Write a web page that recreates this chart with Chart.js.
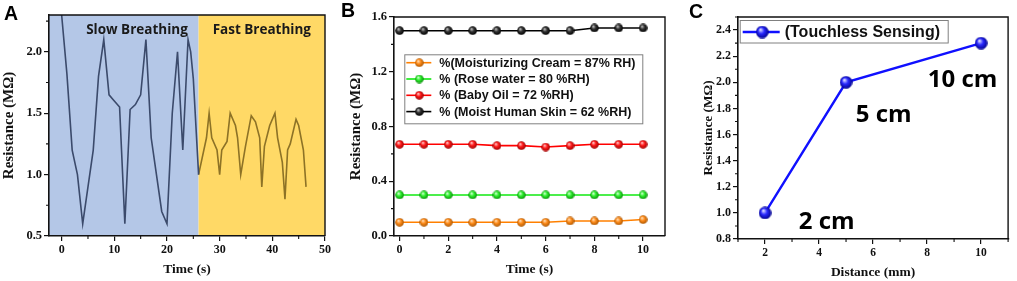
<!DOCTYPE html>
<html>
<head>
<meta charset="utf-8">
<script src="https://cdn.jsdelivr.net/npm/chart.js@4.4.1/dist/chart.umd.min.js"></script>
<style>
  html, body { margin: 0; padding: 0; background: #fff; }
  #wrap { position: relative; width: 1017px; height: 281px; overflow: hidden; }
  .panel { position: absolute; top: 0; height: 281px; }
  .tag { position: absolute; font: bold 19.5px "Liberation Sans", Arial, sans-serif; line-height: 1; color: #000; }
</style>
</head>
<body>
<div id="wrap">
  <div class="panel" style="left:0;width:340px"><canvas id="chartA" width="340" height="281"></canvas></div>
  <div class="panel" style="left:340px;width:340px"><canvas id="chartB" width="340" height="281"></canvas></div>
  <div class="panel" style="left:680px;width:337px"><canvas id="chartC" width="337" height="281"></canvas></div>
  <div class="tag" style="left:4px;top:3.5px">A</div>
  <div class="tag" style="left:341px;top:0.5px">B</div>
  <div class="tag" style="left:689px;top:1.5px">C</div>
</div>
<script>
// ---- Panel A : breathing ----
const slowTime = [0, 1, 2, 3, 4, 5, 6, 7, 8, 9, 10, 11, 12, 13, 14, 15, 16, 17, 18, 19, 20, 21, 22, 23, 24, 24.5, 25, 26];
const slowRes = [2.3, 1.82, 1.2, 1.0, 0.6, 0.9, 1.2, 1.8, 2.1, 1.65, 1.6, 1.55, 0.6, 1.53, 1.57, 1.65, 2.1, 1.3, 1.0, 0.7, 0.6, 1.5, 2.0, 1.2, 2.1, 2.0, 1.78, 1.0];
const fastTime = [26, 27.5, 28, 28.5, 29.5, 30, 30.4, 31.4, 32, 33, 33.4, 34, 34.9, 36, 36.8, 37.6, 38, 38.5, 39.5, 40.5, 41, 41.9, 42.4, 42.9, 43.4, 44.5, 45, 45.9, 46.4];
const fastRes = [1.0, 1.3, 1.5, 1.3, 1.2, 1.0, 1.2, 1.27, 1.5, 1.4, 1.3, 1.0, 1.23, 1.48, 1.43, 1.3, 0.9, 1.23, 1.4, 1.5, 1.3, 1.1, 0.8, 1.2, 1.25, 1.45, 1.4, 1.2, 0.9];
const phaseEnd = [26, 50];
const phaseLabels = ['Slow Breathing', 'Fast Breathing'];
const aTimeTicks = [0, 10, 20, 30, 40, 50];
const aResTicks = [0.5, 1.0, 1.5, 2.0];

// ---- Panel B : skin / liquids ----
const timeB = [0, 1, 2, 3, 4, 5, 6, 7, 8, 9, 10];
const creamRes = [0.1, 0.1, 0.1, 0.1, 0.1, 0.1, 0.1, 0.11, 0.11, 0.11, 0.12];
const roseRes = [0.3, 0.3, 0.3, 0.3, 0.3, 0.3, 0.3, 0.3, 0.3, 0.3, 0.3];
const oilRes = [0.67, 0.67, 0.67, 0.67, 0.66, 0.66, 0.65, 0.66, 0.67, 0.67, 0.67];
const skinRes = [1.5, 1.5, 1.5, 1.5, 1.5, 1.5, 1.5, 1.5, 1.52, 1.52, 1.52];
const bLabels = ['%(Moisturizing Cream = 87% RH)', '% (Rose water = 80 %RH)', '% (Baby Oil = 72 %RH)', '% (Moist Human Skin = 62 %RH)'];
const bTimeTicks = [0, 2, 4, 6, 8, 10];
const bResTicks = [0.0, 0.4, 0.8, 1.2, 1.6];

// ---- Panel C : touchless ----
const distance = [2, 5, 10];
const touchlessRes = [1.0, 2.0, 2.3];
const distanceLabels = ['2 cm', '5 cm', '10 cm'];
const cDistTicks = [2, 4, 6, 8, 10];
const cResTicks = [0.8, 1.0, 1.2, 1.4, 1.6, 1.8, 2.0, 2.2, 2.4];

const INK = '#111';
const serif = '"Liberation Serif", "Times New Roman", serif';
const sans = '"Liberation Sans", Arial, sans-serif';

// shaded sphere used as point marker
function makeBall(d, light, base, dark) {
  const c = document.createElement('canvas');
  c.width = d; c.height = d;
  const g = c.getContext('2d');
  const r = d / 2;
  const grad = g.createRadialGradient(r * 0.72, r * 0.62, r * 0.05, r, r, r);
  grad.addColorStop(0, light);
  grad.addColorStop(0.45, base);
  grad.addColorStop(1, dark);
  g.fillStyle = grad;
  g.beginPath();
  g.arc(r, r, r - 0.2, 0, Math.PI * 2);
  g.fill();
  return c;
}

function pts(xs, ys) {
  return xs.map((x, i) => ({ x: x, y: ys[i] }));
}

function axis(min, max, tickVals, title, titleSize, titlePad, fixed, digits, tickSize) {
  return {
    type: 'linear',
    min: min,
    max: max,
    afterBuildTicks: s => { s.ticks = tickVals.map(v => ({ value: v })); },
    afterFit: s => { if (s.isHorizontal()) s.height = fixed; else s.width = fixed; },
    border: { display: true, color: INK, width: 1.6 },
    grid: { drawOnChartArea: false, color: INK, lineWidth: 1.2, tickLength: 5 },
    ticks: {
      color: INK,
      padding: 2,
      autoSkip: false,
      maxRotation: 0,
      font: { family: serif, weight: 'bold', size: tickSize },
      callback: v => v.toFixed(digits)
    },
    title: {
      display: true,
      text: title,
      color: INK,
      font: { family: serif, weight: 'bold', size: titleSize },
      padding: titlePad
    }
  };
}

function minorOf(scale) {
  const t = scale.ticks.map(k => k.value);
  const step = t[1] - t[0];
  const out = [];
  for (let v = t[0] - step / 2; v <= scale.max + 1e-9; v += step) {
    if (v >= scale.min - 1e-9) out.push(v);
  }
  return out;
}

// minor ticks + top/right frame
const frame = {
  id: 'frame',
  afterDraw(chart) {
    const { ctx, chartArea: a, scales } = chart;
    ctx.save();
    ctx.strokeStyle = INK;
    ctx.lineWidth = 1.1;
    ctx.beginPath();
    minorOf(scales.x).forEach(v => {
      const p = scales.x.getPixelForValue(v);
      ctx.moveTo(p, a.bottom); ctx.lineTo(p, a.bottom + 3);
    });
    minorOf(scales.y).forEach(v => {
      const p = scales.y.getPixelForValue(v);
      ctx.moveTo(a.left - 3, p); ctx.lineTo(a.left, p);
    });
    ctx.stroke();
    ctx.lineWidth = 1.4;
    ctx.beginPath();
    ctx.moveTo(a.left, a.top); ctx.lineTo(a.right, a.top); ctx.lineTo(a.right, a.bottom);
    ctx.stroke();
    ctx.restore();
  }
};

const base = {
  responsive: false,
  animation: false,
  events: [],
  plugins: { legend: { display: false }, tooltip: { enabled: false } }
};

// ---------- Chart A ----------
const phaseFill = ['#b4c7e7', '#ffd966'];
const phasePlugin = {
  id: 'phases',
  beforeDraw(chart) {
    const { ctx, chartArea: a, scales: { x } } = chart;
    ctx.save();
    let start = x.min;
    phaseEnd.forEach((end, i) => {
      const x0 = x.getPixelForValue(start), x1 = x.getPixelForValue(end);
      ctx.fillStyle = phaseFill[i];
      ctx.fillRect(x0, a.top, x1 - x0, a.bottom - a.top);
      start = end;
    });
    ctx.restore();
  },
  afterDatasetsDraw(chart) {
    const { ctx, chartArea: a, scales: { x } } = chart;
    const anchors = [14.3, 38];
    ctx.save();
    ctx.fillStyle = '#1a1a1a';
    ctx.font = 'bold 13.5px "Open Sans", sans-serif';
    ctx.textAlign = 'center';
    ctx.textBaseline = 'alphabetic';
    phaseLabels.forEach((t, i) => ctx.fillText(t, x.getPixelForValue(anchors[i]), a.top + 18.5));
    ctx.restore();
  }
};

new Chart(document.getElementById('chartA'), {
  type: 'line',
  data: {
    datasets: [
      { data: pts(slowTime, slowRes), borderColor: '#3b4a6b', borderWidth: 1.6, pointRadius: 0, tension: 0 },
      { data: pts(fastTime, fastRes), borderColor: '#8d7226', borderWidth: 1.6, pointRadius: 0, tension: 0 }
    ]
  },
  options: Object.assign({}, base, {
    layout: { padding: { left: 0, top: 15, right: 15, bottom: 0 } },
    scales: {
      x: axis(-2.4, 50, aTimeTicks, 'Time (s)', 13.5, { top: 0, bottom: 3.7 }, 45, 0, 12),
      y: axis(0.5, 2.3, aResTicks, 'Resistance (MΩ)', 15, { top: 0, bottom: 0 }, 49, 1, 12.5)
    }
  }),
  plugins: [phasePlugin, frame]
});

// ---------- Chart B ----------
const ballsB = [
  makeBall(9, '#ffe3bf', '#ff8c1a', '#a85400'),
  makeBall(9, '#e0ffe0', '#2cf02c', '#0a8a0a'),
  makeBall(9, '#ffd0d0', '#ff1a1a', '#9a0000'),
  makeBall(9, '#c8c8c8', '#303030', '#000000')
];
const lineB = ['#ff8000', '#10e810', '#ff0000', '#000000'];
const seriesB = [creamRes, roseRes, oilRes, skinRes];

const legendB = {
  id: 'legendB',
  afterDatasetsDraw(chart) {
    const { ctx, chartArea: a } = chart;
    const left = a.left + 10.3, top = a.top + 37.3, w = 238, h = 69;
    ctx.save();
    ctx.fillStyle = '#fff';
    ctx.fillRect(left, top, w, h);
    ctx.strokeStyle = '#808080';
    ctx.lineWidth = 1;
    ctx.strokeRect(left + 0.5, top + 0.5, w, h);
    chart.data.datasets.forEach((ds, i) => {
      const yy = top + 8.4 + i * 16.3;
      ctx.strokeStyle = ds.borderColor;
      ctx.lineWidth = 1.6;
      ctx.beginPath(); ctx.moveTo(left + 2, yy); ctx.lineTo(left + 27, yy); ctx.stroke();
      ctx.drawImage(ds.pointStyle, left + 15 - 4.5, yy - 4.5);
      ctx.fillStyle = INK;
      ctx.font = 'bold 12.5px ' + sans;
      ctx.textBaseline = 'middle';
      ctx.fillText(ds.label, left + 35, yy + 0.5);
    });
    ctx.restore();
  }
};

new Chart(document.getElementById('chartB'), {
  type: 'line',
  data: {
    datasets: seriesB.map((s, i) => ({
      label: bLabels[i],
      data: pts(timeB, s),
      borderColor: lineB[i],
      borderWidth: 1.6,
      pointStyle: ballsB[i],
      pointRadius: 4.5,
      tension: 0
    }))
  },
  options: Object.assign({}, base, {
    layout: { padding: { left: 7, top: 17, right: 15, bottom: 0 } },
    scales: {
      x: axis(-0.23, 10.9, bTimeTicks, 'Time (s)', 13.5, { top: 0, bottom: 3.2 }, 45, 0, 12),
      y: axis(0, 1.6, bResTicks, 'Resistance (MΩ)', 15, { top: 0, bottom: 0 }, 47, 1, 12.5)
    }
  }),
  plugins: [legendB, frame]
});

// ---------- Chart C ----------
const ballC = makeBall(13, '#e6e6ff', '#2a2aff', '#00008a');

const labelsC = {
  id: 'labelsC',
  afterDatasetsDraw(chart) {
    const { ctx, chartArea: a } = chart;
    const meta = chart.getDatasetMeta(0);
    const offs = [[61.7, 16], [37.7, 39.4], [-18.5, 44]];
    ctx.save();
    ctx.fillStyle = '#000';
    ctx.font = 'bold 24px "Open Sans", sans-serif';
    ctx.textAlign = 'center';
    ctx.textBaseline = 'alphabetic';
    distanceLabels.forEach((t, i) => {
      const p = meta.data[i];
      ctx.fillText(t, p.x + offs[i][0], p.y + offs[i][1]);
    });
    // legend box
    const left = a.left + 1.7, top = a.top + 3, w = 208, h = 22.5;
    ctx.fillStyle = '#fff';
    ctx.fillRect(left, top, w, h);
    ctx.strokeStyle = '#808080';
    ctx.lineWidth = 1;
    ctx.strokeRect(left + 0.5, top + 0.5, w, h);
    const yy = top + 12;
    ctx.strokeStyle = '#1010ff';
    ctx.lineWidth = 2.4;
    ctx.beginPath(); ctx.moveTo(left + 3, yy); ctx.lineTo(left + 40, yy); ctx.stroke();
    ctx.drawImage(ballC, left + 22.5 - 6.5, yy - 6.5);
    ctx.fillStyle = INK;
    ctx.font = 'bold 16px ' + sans;
    ctx.textAlign = 'left';
    ctx.textBaseline = 'middle';
    ctx.fillText(chart.data.datasets[0].label, left + 45, yy + 0.5);
    ctx.restore();
  }
};

new Chart(document.getElementById('chartC'), {
  type: 'line',
  data: {
    datasets: [{
      label: '(Touchless Sensing)',
      data: pts(distance, touchlessRes),
      borderColor: '#1010ff',
      borderWidth: 2.4,
      pointStyle: ballC,
      pointRadius: 6.5,
      tension: 0
    }]
  },
  options: Object.assign({}, base, {
    layout: { padding: { left: 21, top: 17, right: 2.7, bottom: 0 } },
    scales: {
      x: axis(1, 11, cDistTicks, 'Distance (mm)', 13.5, { top: 0, bottom: 0.7 }, 42, 0, 11.5),
      y: axis(0.8, 2.5, cResTicks, 'Resistance (MΩ)', 13.3, { top: 0, bottom: 0 }, 37, 1, 12)
    }
  }),
  plugins: [labelsC, frame]
});
</script>
</body>
</html>
